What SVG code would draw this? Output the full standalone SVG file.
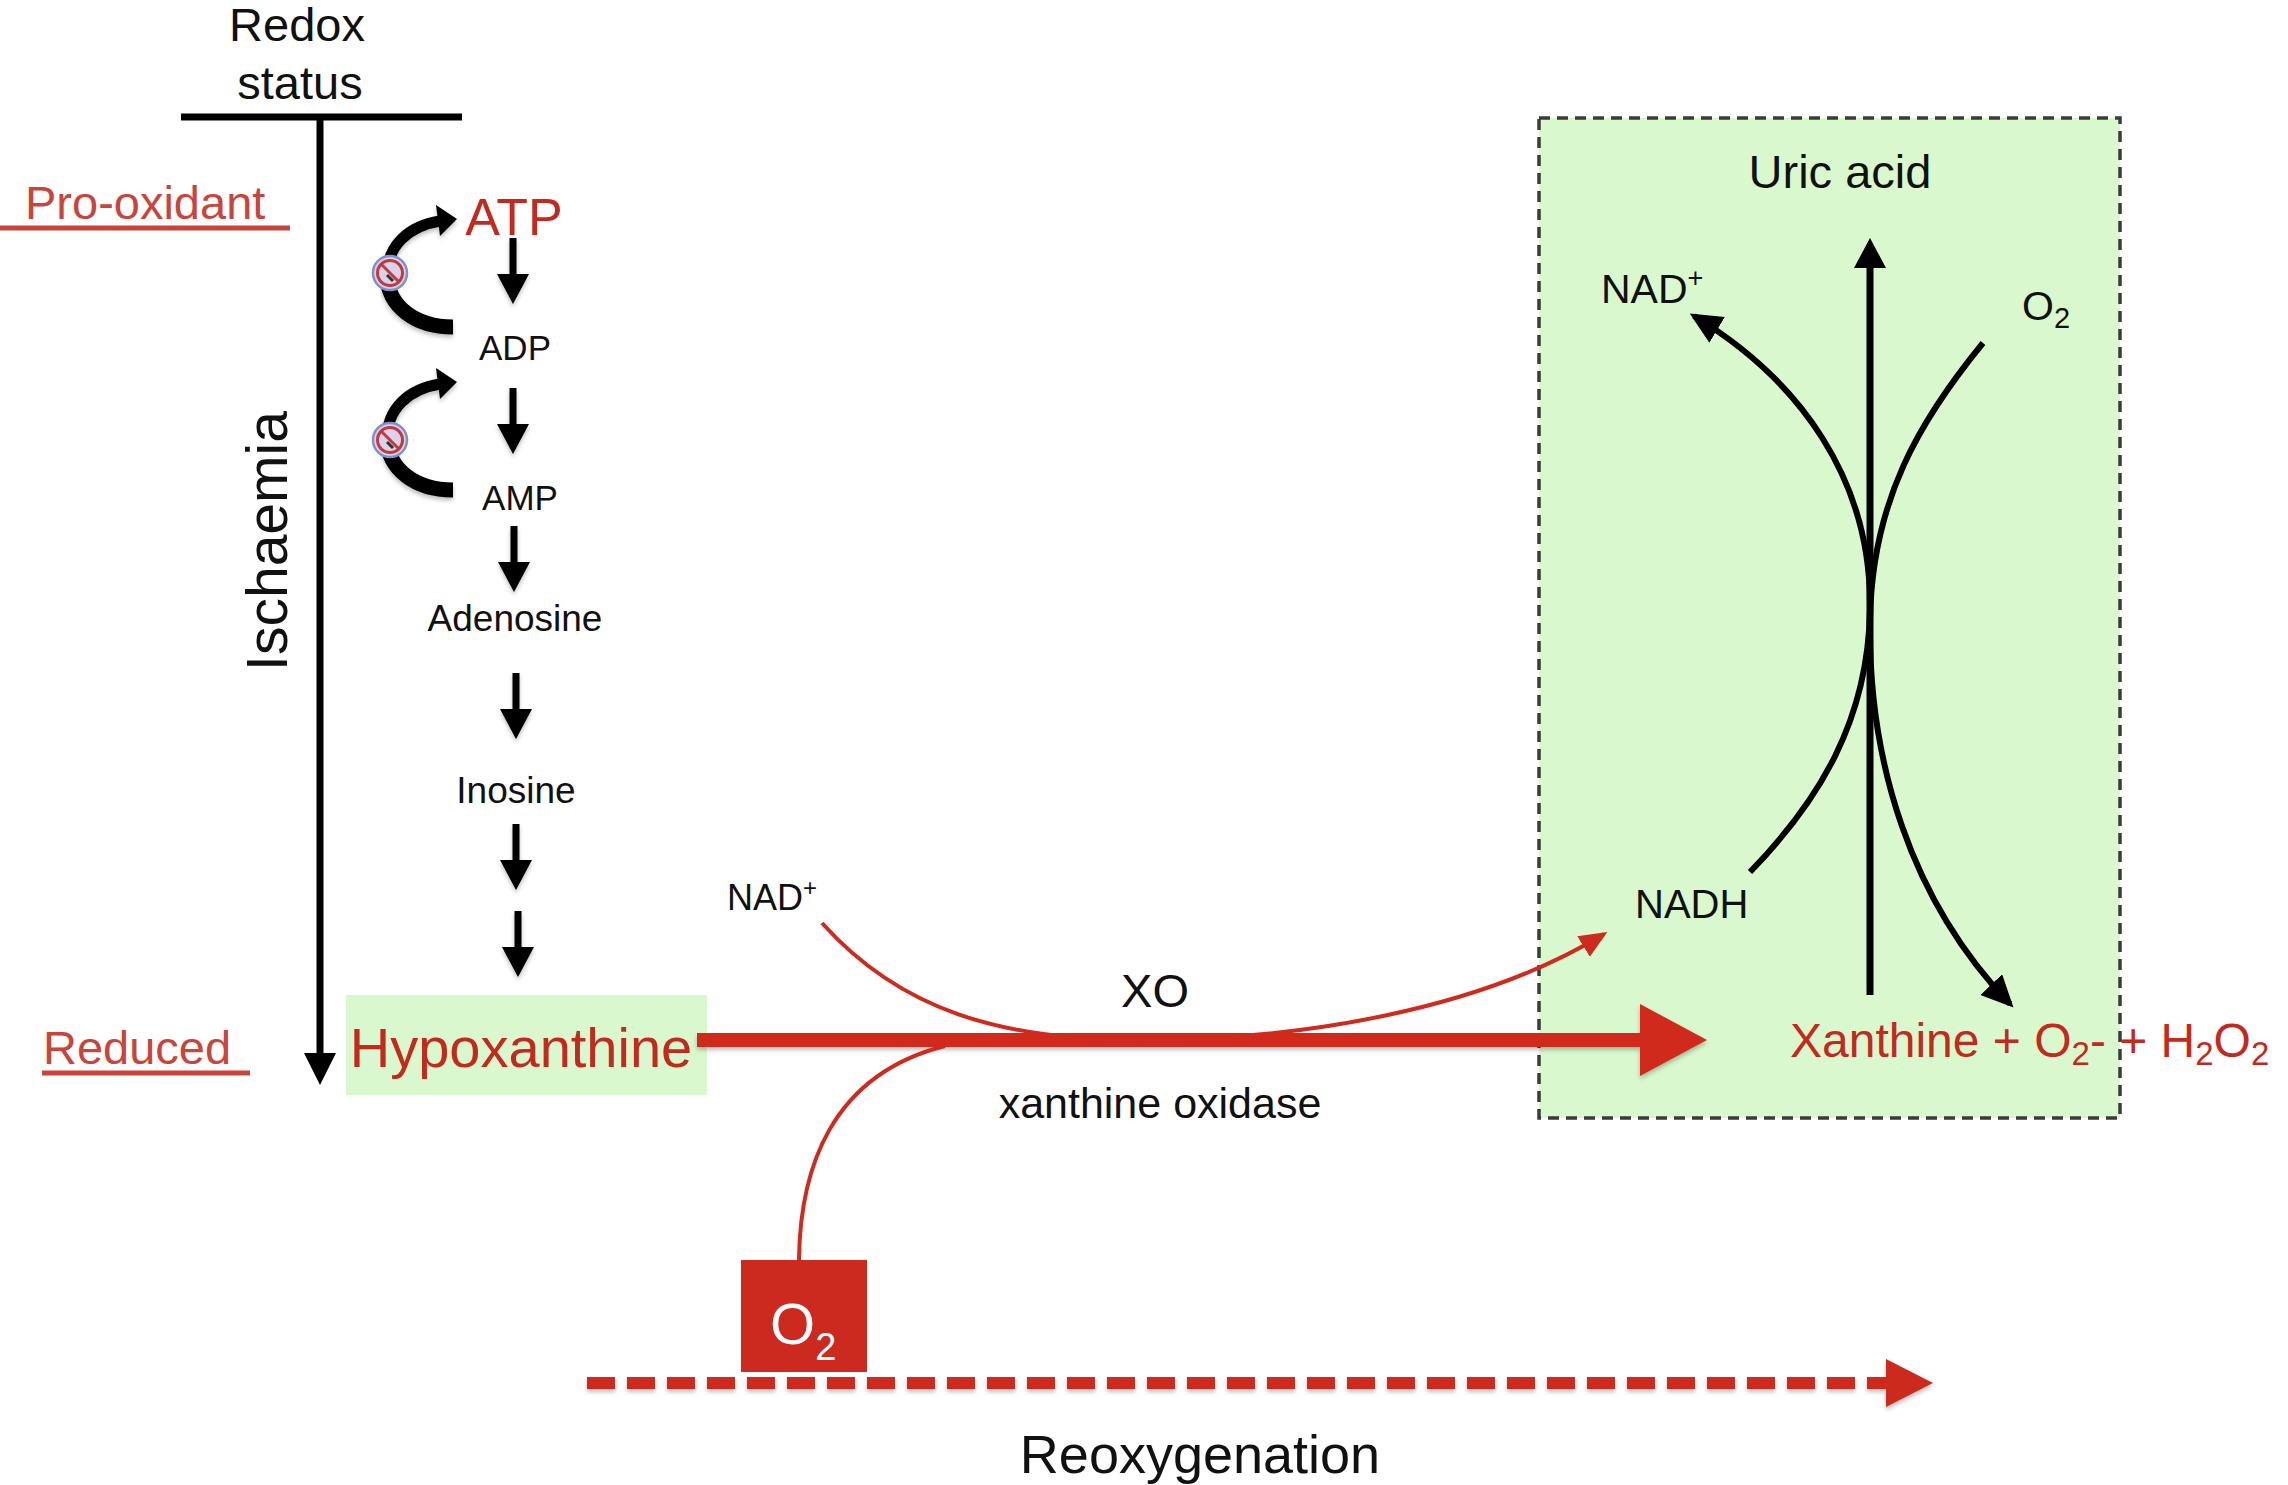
<svg xmlns="http://www.w3.org/2000/svg" width="2288" height="1485" viewBox="0 0 2288 1485">
<defs>
<style>
text{font-family:"Liberation Sans",Arial,Helvetica,sans-serif}
.k{fill:#111}
.r{fill:#c3291d}
.lr{fill:#c9453b}
.thin{fill:none;stroke:#000;stroke-width:6}
.rthin{fill:none;stroke:#cf2a1e;stroke-width:4}
.uline{stroke:#c9453b;stroke-width:5}
</style>
<filter id="sh" x="-10%" y="-30%" width="120%" height="160%">
<feDropShadow dx="0" dy="3" stdDeviation="2" flood-color="#000" flood-opacity="0.25"/>
</filter>
<marker id="mk" viewBox="0 0 32 30" refX="27" refY="15" markerWidth="32" markerHeight="30" markerUnits="userSpaceOnUse" orient="auto">
<path d="M0,0 L32,15 L0,30 z" fill="#000"/>
</marker>
<marker id="mr" viewBox="0 0 28 24" refX="24" refY="12" markerWidth="28" markerHeight="24" markerUnits="userSpaceOnUse" orient="auto">
<path d="M0,0 L28,12 L0,24 z" fill="#cf2a1e"/>
</marker>
<path id="down" d="M-3.5,0 h7 v36 h12.5 L0,66 L-16,36 h12.5 z" fill="#000"/>
<g id="inh">
<circle r="17" fill="#d9d2ea" stroke="#7f90d0" stroke-width="2.5"/>
<circle r="12.5" fill="none" stroke="#c23a3a" stroke-width="3"/>
<line x1="-9" y1="-9" x2="9" y2="9" stroke="#c23a3a" stroke-width="3"/>
<line x1="-3" y1="2" x2="3" y2="8" stroke="#333" stroke-width="3"/>
</g>
</defs>
<rect width="2288" height="1485" fill="#fff"/>

<g id="redox-axis">
<text x="297" y="41" font-size="47" text-anchor="middle" class="k">Redox</text>
<text x="300" y="99" font-size="47" text-anchor="middle" class="k">status</text>
<line x1="181" y1="117" x2="462" y2="117" stroke="#000" stroke-width="7"/>
<line x1="320" y1="117" x2="320" y2="1055" stroke="#000" stroke-width="7"/>
<polygon points="304,1053 336,1053 320,1085" fill="#000"/>
<text transform="translate(287,541) rotate(-90)" font-size="57" text-anchor="middle" class="k">Ischaemia</text>
</g>

<g id="pro-oxidant">
<text x="25" y="219" font-size="47" class="lr">Pro-oxidant</text>
<line x1="0" y1="228" x2="290" y2="228" class="uline"/>
</g>
<g id="reduced">
<text x="43" y="1064" font-size="47" class="lr">Reduced</text>
<line x1="42" y1="1073" x2="250" y2="1073" class="uline"/>
</g>

<g id="atp"><text x="514" y="235" font-size="52" text-anchor="middle" class="r">ATP</text></g>
<g id="adp"><text x="515" y="360" font-size="35" text-anchor="middle" class="k">ADP</text></g>
<g id="amp"><text x="520" y="510" font-size="35" text-anchor="middle" class="k">AMP</text></g>
<g id="adenosine"><text x="515" y="631" font-size="37" text-anchor="middle" class="k">Adenosine</text></g>
<g id="inosine"><text x="516" y="803" font-size="37" text-anchor="middle" class="k">Inosine</text></g>

<g id="hypoxanthine">
<rect x="346" y="995" width="361" height="100" fill="#d9f8cd"/>
<text x="521" y="1067" font-size="56" text-anchor="middle" class="r">Hypoxanthine</text>
</g>

<g id="xo-box">
<rect x="1539" y="118" width="581" height="1000" fill="#d9f8cd" stroke="#3b3b3b" stroke-width="3.5" stroke-dasharray="11 7"/>
</g>
<g id="uric-acid"><text x="1840" y="188" font-size="47" text-anchor="middle" class="k">Uric acid</text></g>
<g id="nad-right"><text x="1601" y="303" font-size="41" class="k">NAD<tspan font-size="27" dy="-16">+</tspan></text></g>
<g id="o2-right"><text x="2022" y="320" font-size="41" class="k">O<tspan font-size="29" dy="8">2</tspan></text></g>
<g id="nadh"><text x="1635" y="918" font-size="40" class="k">NADH</text></g>
<g id="products">
<text x="1790" y="1057" font-size="48" class="r">Xanthine + O<tspan font-size="33" dy="8">2</tspan><tspan dy="-8">- + H</tspan><tspan font-size="33" dy="8">2</tspan><tspan dy="-8">O</tspan><tspan font-size="33" dy="8">2</tspan></text>
</g>

<g id="nad-left"><text x="727" y="910" font-size="36" class="k">NAD<tspan font-size="24" dy="-14">+</tspan></text></g>
<g id="xo-label">
<text x="1155" y="1007" font-size="47" text-anchor="middle" class="k">XO</text>
<text x="1160" y="1118" font-size="43" text-anchor="middle" class="k">xanthine oxidase</text>
</g>

<g id="o2-box">
<rect x="741" y="1260" width="126" height="112" fill="#cc2a1e"/>
<text x="770" y="1344" font-size="58" fill="#fff">O<tspan font-size="38" dy="16">2</tspan></text>
</g>

<g id="reoxygenation"><text x="1200" y="1473" font-size="54" text-anchor="middle" class="k">Reoxygenation</text></g>

<g id="connectors">
<g filter="url(#sh)">
<use href="#down" x="513" y="238"/>
<use href="#down" x="513" y="388"/>
<use href="#down" x="514" y="526"/>
<use href="#down" x="516" y="673"/>
<use href="#down" x="516" y="824"/>
<use href="#down" x="518" y="911"/>
</g>
<g id="cycle1" filter="url(#sh)">
<path d="M453,327 C415,327 388,306 387,276" fill="none" stroke="#000" stroke-width="15"/>
<path d="M387,276 C387,246 408,226 440,221" fill="none" stroke="#000" stroke-width="11"/>
<polygon points="436,205 457,219 440,236" fill="#000"/>
</g>
<use href="#inh" x="390" y="273"/>
<g id="cycle2" filter="url(#sh)" transform="translate(0,163)">
<path d="M453,327 C415,327 388,306 387,276" fill="none" stroke="#000" stroke-width="15"/>
<path d="M387,276 C387,246 408,226 440,221" fill="none" stroke="#000" stroke-width="11"/>
<polygon points="436,205 457,219 440,236" fill="#000"/>
</g>
<use href="#inh" x="390" y="440"/>

<g filter="url(#sh)">
<rect x="697" y="1033" width="950" height="14" fill="#cf2a1e"/>
<polygon points="1640,1004 1707,1040 1640,1076" fill="#cf2a1e"/>
</g>
<path class="rthin" d="M822,923 C900,1010 1000,1040 1140,1040 C1300,1040 1480,1010 1604,934" marker-end="url(#mr)"/>
<path class="rthin" d="M799,1260 C800,1170 830,1075 945,1046"/>

<g filter="url(#sh)">
<line x1="587" y1="1383" x2="1886" y2="1383" stroke="#cc2a1e" stroke-width="12" stroke-dasharray="28 12"/>
<polygon points="1886,1359 1933,1383 1886,1407" fill="#cc2a1e"/>
</g>

<line x1="1870" y1="995" x2="1870" y2="264" stroke="#000" stroke-width="7"/>
<polygon points="1854,268 1870,238 1886,268" fill="#000"/>
<path class="thin" d="M1750,872 C1820,800 1868,720 1870,610 C1872,480 1800,380 1694,316" marker-end="url(#mk)"/>
<path class="thin" d="M1983,343 C1920,420 1872,500 1870,620 C1868,760 1910,900 2010,1004" marker-end="url(#mk)"/>
</g>
</svg>
